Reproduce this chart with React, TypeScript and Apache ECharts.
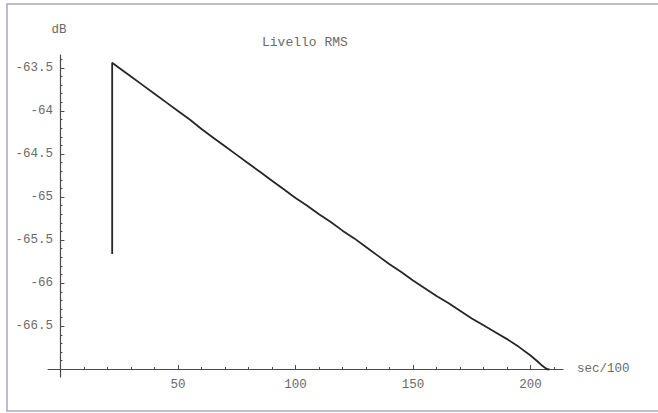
import React, { useEffect, useRef } from "react";
import * as echarts from "echarts";

// Data: time (sec/100) vs RMS level (dB)
const timeValues: number[] = [
  22, 22, 25, 30, 35, 40, 45, 50, 55, 60, 65, 70, 75, 80, 85, 90, 95, 100,
  105, 110, 115, 120, 125, 130, 135, 140, 145, 150, 155, 160, 165, 170, 175,
  180, 185, 190, 195, 200, 203, 205, 207, 208,
];
const levelValues: number[] = [
  -65.66, -63.44, -63.5, -63.6, -63.7, -63.8, -63.9, -64.0, -64.1, -64.21,
  -64.31, -64.41, -64.51, -64.61, -64.71, -64.81, -64.91, -65.01, -65.1,
  -65.2, -65.29, -65.39, -65.48, -65.58, -65.68, -65.78, -65.87, -65.97,
  -66.06, -66.15, -66.23, -66.32, -66.41, -66.49, -66.57, -66.65, -66.74,
  -66.84, -66.91, -66.96, -67.0, -67.0,
];

const xTickLabels: number[] = [50, 100, 150, 200];
const xMinorTicks: number[] = [
  10, 20, 30, 40, 60, 70, 80, 90, 110, 120, 130, 140, 160, 170, 180, 190, 210,
];
const yTickLabels: number[] = [-63.5, -64, -64.5, -65, -65.5, -66, -66.5];
const yMinorTicks: number[] = [
  -63.4, -63.6, -63.7, -63.8, -63.9, -64.1, -64.2, -64.3, -64.4, -64.6, -64.7,
  -64.8, -64.9, -65.1, -65.2, -65.3, -65.4, -65.6, -65.7, -65.8, -65.9, -66.1,
  -66.2, -66.3, -66.4, -66.6, -66.7, -66.8, -66.9,
];

const chartTitle = "Livello RMS";
const xName = "sec/100";
const yName = "dB";

const X_MIN = -5.3;
const X_MAX = 213.8;
const Y_MIN = -67.09;
const Y_MAX = -63.35;

const FONT = "'Liberation Mono', 'DejaVu Sans Mono', monospace";
const AXIS_COLOR = "#4a4a4a";
const LABEL_COLOR = "#6a6a6a";

export default function App() {
  const ref = useRef<HTMLDivElement>(null);

  useEffect(() => {
    if (!ref.current) return;
    const chart = echarts.init(ref.current, undefined, { renderer: "svg" });
    const gridRect = { left: 48, right: 95, top: 55, bottom: 36 };
    const data = timeValues.map((t, i) => [t, levelValues[i]]);

    chart.setOption({
      animation: false,
      backgroundColor: "#ffffff",
      textStyle: { fontFamily: FONT },
      title: {
        text: chartTitle,
        left: 262,
        top: 36,
        padding: 0,
        textStyle: {
          fontFamily: FONT,
          fontSize: 13,
          fontWeight: "normal",
          color: LABEL_COLOR,
        },
      },
      graphic: [
        {
          type: "rect",
          shape: { x: 7, y: 4, width: 700, height: 407 },
          style: { fill: "none", stroke: "#a6a8c2", lineWidth: 1.5 },
          silent: true,
        },
      ],
      grid: [
        { ...gridRect },
        { ...gridRect },
      ],
      xAxis: [
        {
          type: "value",
          gridIndex: 0,
          min: X_MIN,
          max: X_MAX,
          offset: -8,
          name: xName,
          nameLocation: "end",
          nameGap: 14,
          nameTextStyle: { fontFamily: FONT, fontSize: 12.5, color: LABEL_COLOR },
          axisLine: { show: true, lineStyle: { color: AXIS_COLOR, width: 1.2 } },
          axisTick: {
            show: true,
            inside: true,
            length: 4,
            customValues: xTickLabels,
            lineStyle: { color: AXIS_COLOR, width: 1 },
          },
          axisLabel: {
            show: true,
            customValues: xTickLabels,
            margin: 9,
            fontFamily: FONT,
            fontSize: 12.5,
            color: LABEL_COLOR,
          },
          splitLine: { show: false },
        },
        {
          type: "value",
          gridIndex: 1,
          min: X_MIN,
          max: X_MAX,
          offset: -8,
          axisLine: { show: false },
          axisTick: {
            show: true,
            inside: true,
            length: 2,
            customValues: xMinorTicks,
            lineStyle: { color: AXIS_COLOR, width: 1 },
          },
          axisLabel: { show: false },
          splitLine: { show: false },
        },
      ],
      yAxis: [
        {
          type: "value",
          gridIndex: 0,
          min: Y_MIN,
          max: Y_MAX,
          name: yName,
          nameLocation: "end",
          nameGap: 19,
          nameTextStyle: {
            fontFamily: FONT,
            fontSize: 12.5,
            color: LABEL_COLOR,
            align: "right",
            padding: [0, -6, 0, 0],
          },
          axisLine: {
            show: true,
            onZero: true,
            lineStyle: { color: AXIS_COLOR, width: 1.2 },
          },
          axisTick: {
            show: true,
            inside: true,
            length: 4,
            customValues: yTickLabels,
            lineStyle: { color: AXIS_COLOR, width: 1 },
          },
          axisLabel: {
            show: true,
            customValues: yTickLabels,
            margin: -5,
            fontFamily: FONT,
            fontSize: 12.5,
            color: LABEL_COLOR,
          },
          splitLine: { show: false },
        },
        {
          type: "value",
          gridIndex: 1,
          min: Y_MIN,
          max: Y_MAX,
          axisLine: { show: false, onZero: true },
          axisTick: {
            show: true,
            inside: true,
            length: 2,
            customValues: yMinorTicks,
            lineStyle: { color: AXIS_COLOR, width: 1 },
          },
          axisLabel: { show: false },
          splitLine: { show: false },
        },
      ],
      series: [
        {
          type: "line",
          xAxisIndex: 0,
          yAxisIndex: 0,
          data,
          showSymbol: false,
          symbol: "none",
          lineStyle: { color: "#262626", width: 1.8 },
          z: 5,
        },
      ],
    });

    return () => chart.dispose();
  }, []);

  return (
    <div
      ref={ref}
      style={{
        position: "fixed",
        left: 0,
        top: 0,
        width: 658,
        height: 413,
        background: "#ffffff",
      }}
    />
  );
}
